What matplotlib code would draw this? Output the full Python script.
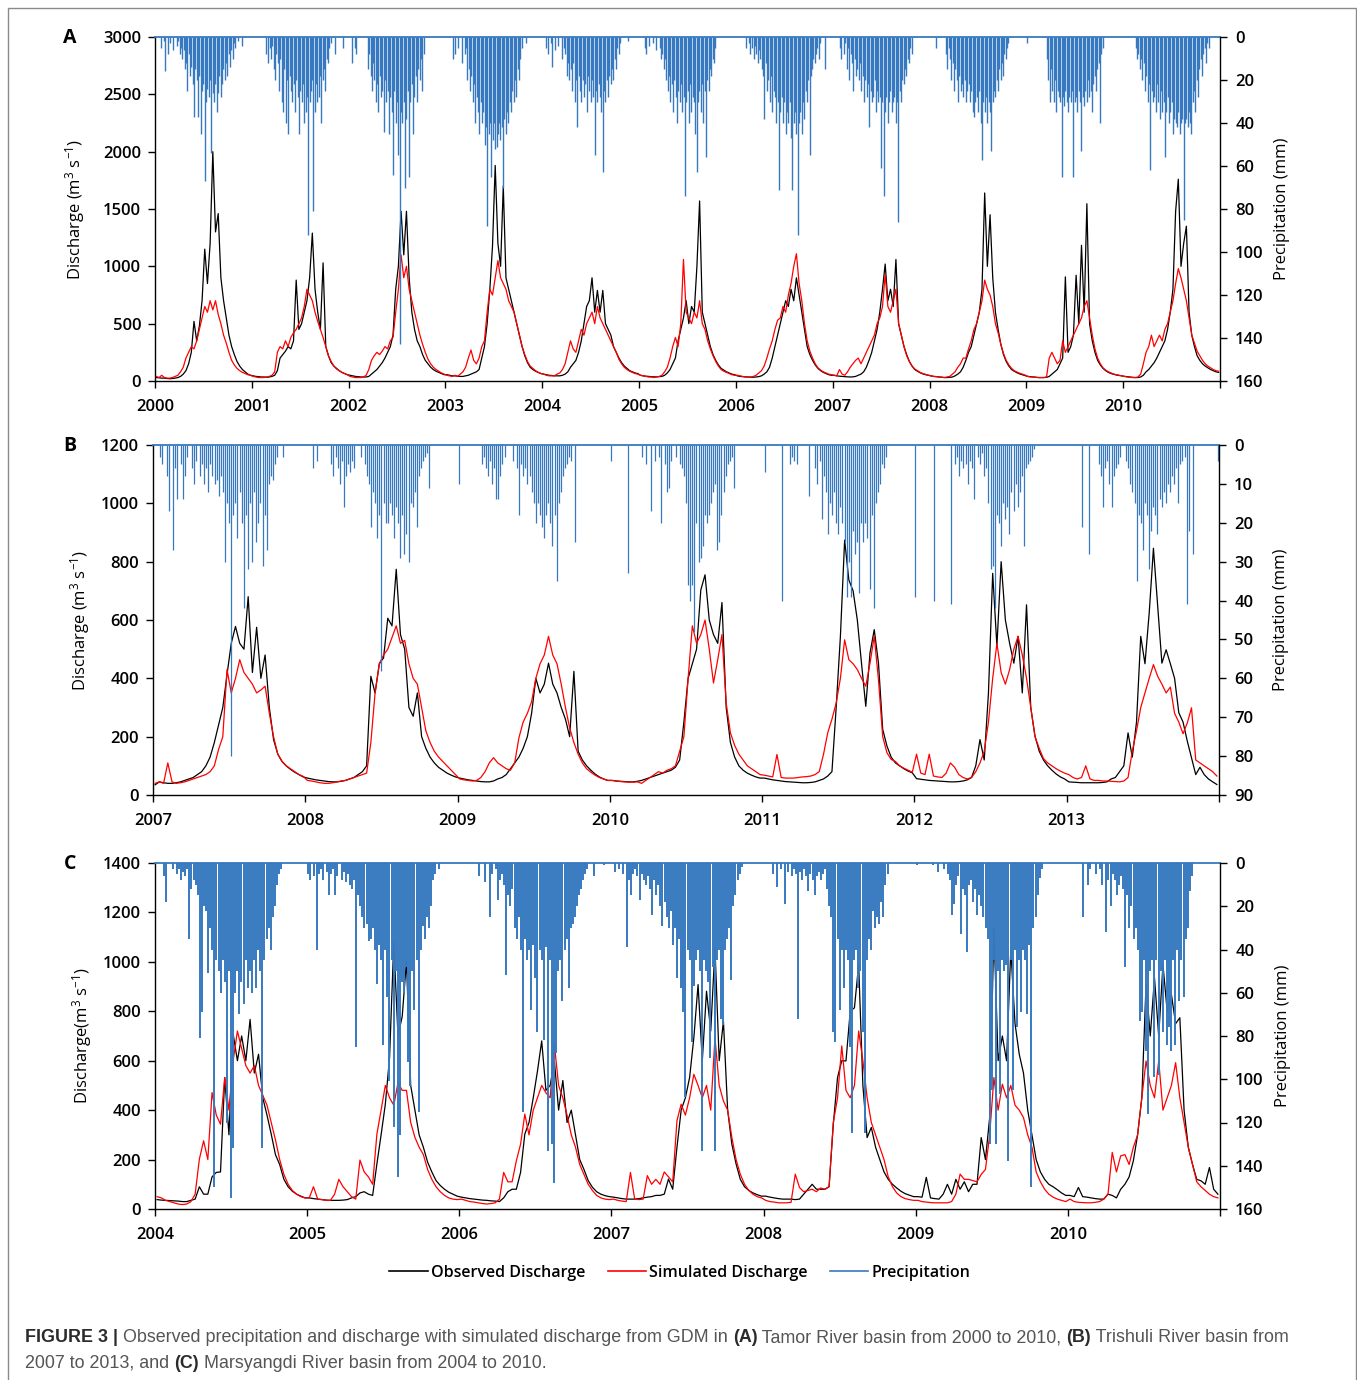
import matplotlib
matplotlib.use("Agg")
import matplotlib.pyplot as plt
from matplotlib.patches import Rectangle

plt.rcParams['font.family'] = ['Open Sans', 'DejaVu Sans']
plt.rcParams['mathtext.fontset'] = 'custom'
plt.rcParams['mathtext.rm'] = 'Open Sans'
plt.rcParams['mathtext.it'] = 'Open Sans'
plt.rcParams['mathtext.bf'] = 'Open Sans:bold'

# ---------------- Panel A : Tamor (2000-2010) ----------------
A_years = list(range(2000, 2011))
# observed discharge, 36 dekads per year (m3/s)
A_obs = [
    [30,28,25,25,22,20,22,25,30,40,60,90,150,250,520,350,480,700,1150,850,1200,2000,1300,1460,900,700,550,400,300,230,170,130,100,80,60,50],
    [45,40,38,35,35,33,35,40,50,90,200,230,260,300,280,350,880,450,500,600,700,900,1290,800,600,450,1030,300,220,160,130,110,90,75,65,55],
    [50,45,40,38,35,35,35,40,60,80,100,130,160,200,250,300,400,800,1000,1480,1100,1480,900,600,450,350,300,230,180,150,120,100,85,75,65,55],
    [55,50,45,45,42,40,40,45,50,60,70,80,100,200,300,500,800,1180,1880,1200,1000,1700,900,800,700,600,500,400,300,220,160,120,100,85,75,65],
    [60,55,50,48,45,45,45,50,60,80,120,150,180,250,350,500,650,700,900,600,790,600,790,500,450,400,300,250,200,160,130,110,90,80,70,65],
    [50,45,42,40,38,36,36,38,40,50,70,100,150,200,350,450,550,700,500,650,600,1000,1570,600,500,400,300,230,180,140,110,95,80,70,60,55],
    [45,40,38,36,35,33,33,35,38,45,60,80,120,200,300,400,500,600,700,650,800,700,900,750,600,450,300,230,180,140,110,90,75,65,55,50],
    [50,45,42,40,38,36,35,36,40,50,60,80,120,180,250,350,450,600,800,1020,700,800,650,1060,500,400,300,230,170,130,100,85,72,62,55,50],
    [45,40,38,35,33,30,30,32,35,45,60,80,120,180,250,300,400,500,600,800,1640,1000,1450,900,600,450,320,230,170,130,100,85,72,62,55,48],
    [40,38,35,33,30,30,30,32,40,60,80,100,150,200,908,250,300,400,922,500,1183,600,1546,500,350,250,180,140,110,90,75,65,58,52,48,45],
    [40,38,35,32,30,30,35,50,80,100,130,160,200,250,300,350,450,600,800,1480,1760,1000,1200,1350,600,400,300,220,180,150,130,115,100,90,80,75],
]
A_sim = [
    [40,30,50,30,25,25,30,40,50,80,120,200,250,300,280,350,450,550,650,600,700,620,700,580,500,400,330,250,180,140,110,90,75,65,55,50],
    [40,35,30,30,30,35,40,50,80,250,300,280,350,300,380,420,450,500,550,650,800,750,700,600,520,450,380,300,220,170,130,105,90,75,65,55],
    [40,35,30,30,30,35,50,100,180,220,250,230,260,300,280,350,380,600,800,1100,900,1000,800,700,600,500,400,320,250,190,150,120,100,85,70,60],
    [50,45,40,50,40,60,80,120,200,270,180,150,200,300,350,600,800,750,900,1050,900,850,800,700,650,600,500,400,300,230,170,130,110,90,75,65],
    [60,50,45,45,45,60,70,100,150,250,350,280,250,350,450,400,500,550,600,500,650,550,500,450,400,350,300,250,190,150,120,100,85,75,65,60],
    [50,45,40,35,35,30,35,40,50,80,120,200,300,380,300,500,1060,600,550,500,600,550,700,500,450,350,280,220,170,130,100,85,75,65,55,50],
    [50,45,40,35,35,35,40,50,70,90,130,200,280,350,450,530,550,650,600,750,850,1000,1110,850,700,500,350,260,200,150,115,95,80,70,60,55],
    [50,45,100,60,50,80,120,150,180,200,150,200,250,300,350,400,500,550,650,930,650,600,700,800,500,400,300,220,170,130,105,90,75,65,58,52],
    [45,40,38,35,33,30,35,40,60,80,120,150,200,200,280,350,450,500,600,700,880,800,750,650,500,420,320,240,180,140,110,90,78,68,60,52],
    [40,35,35,32,30,30,30,35,200,250,200,150,180,350,250,300,350,400,450,500,550,650,700,550,400,280,200,150,115,95,80,70,60,55,50,45],
    [40,35,32,30,30,35,60,150,250,300,400,300,350,400,350,450,500,600,700,850,980,900,800,700,550,400,330,260,220,180,150,130,115,100,90,85],
]
# precipitation, 73 pentads per year (mm)
A_prec = [
    [0,0,0,0,5,0,2,16,0,8,0,3,0,6,0,0,4,2,8,5,10,6,15,12,25,8,18,14,22,37,15,20,37,18,45,25,22,67,30,24,28,20,54,26,30,22,35,26,18,28,22,15,20,12,18,8,14,6,10,3,5,0,2,0,0,4,0,0,0,0,0,0,0],
    [0,0,0,0,0,0,0,0,0,0,8,0,12,5,10,4,15,20,8,12,25,10,30,35,15,40,20,45,18,25,30,22,35,20,28,45,25,30,22,40,35,28,92,30,25,20,81,35,22,30,28,18,40,20,15,25,10,12,5,3,0,0,8,0,0,0,0,0,5,0,0,0,0],
    [0,0,12,0,5,8,0,0,0,0,0,0,0,0,15,8,18,25,12,20,30,22,35,18,28,25,44,20,30,25,45,28,35,64,25,40,30,55,143,35,40,30,70,38,25,65,30,22,45,28,18,30,15,20,10,25,8,0,0,0,0,0,0,0,0,0,0,0,0,0,0,0,0],
    [0,0,0,0,0,10,0,8,0,5,0,0,12,0,8,5,20,15,25,18,30,22,40,28,35,45,30,40,35,50,42,88,45,40,65,48,40,52,51,45,40,48,42,70,38,45,35,40,30,35,25,30,20,28,15,20,10,5,0,0,3,0,0,0,0,0,0,0,0,0,0,0,0],
    [0,0,5,0,8,0,3,14,0,6,0,4,0,0,10,0,5,8,18,12,20,15,25,12,30,20,42,18,25,30,20,28,22,35,18,25,30,20,28,55,25,30,22,28,35,63,25,30,20,28,18,22,15,20,10,15,5,8,3,0,0,0,0,0,2,0,0,0,0,0,0,0,0],
    [0,0,0,0,5,8,0,4,0,0,3,0,6,0,0,5,10,8,15,10,20,25,18,30,22,35,20,28,40,25,30,22,35,28,74,30,25,40,22,35,28,30,45,63,30,25,35,22,40,25,56,20,25,15,18,10,12,5,0,0,0,0,0,0,0,0,0,0,0,0,0,0,0],
    [0,0,0,0,0,0,0,5,0,3,8,0,5,10,4,8,12,6,10,15,18,38,12,25,20,30,18,35,25,28,40,30,71,35,28,40,30,45,35,40,30,47,71,40,35,45,92,40,35,45,30,38,25,30,20,55,18,15,10,12,8,5,10,3,0,0,0,15,0,0,0,0,0],
    [0,0,0,0,0,5,10,0,8,3,15,5,20,8,12,25,10,18,15,20,12,25,18,30,20,28,22,42,25,30,28,20,35,25,30,28,61,30,74,35,28,40,30,25,35,30,28,40,30,86,25,30,20,22,15,18,10,12,5,8,0,0,0,0,0,0,0,0,0,0,0,0,0],
    [0,0,0,0,5,0,0,0,0,0,0,0,8,15,5,10,20,12,25,15,20,30,18,25,22,28,20,30,25,22,30,25,35,37,30,28,35,25,40,57,30,35,28,40,30,35,53,30,25,28,20,25,15,20,12,18,8,10,5,3,0,0,0,0,0,0,0,0,0,0,0,0,0],
    [3,0,0,0,0,0,0,0,0,0,0,0,0,0,0,10,20,30,15,25,30,20,35,25,28,30,65,28,32,25,30,35,28,30,25,65,30,28,35,25,30,53,28,32,25,30,20,28,25,35,22,18,25,15,12,40,8,5,0,0,0,0,0,0,0,0,0,0,0,0,0,0,0],
    [0,0,0,0,0,0,0,0,0,5,10,8,15,10,20,12,25,18,30,22,62,25,30,28,35,22,30,38,25,35,30,56,35,28,40,35,30,45,38,40,42,35,45,40,38,85,40,38,42,35,40,45,30,25,35,20,28,15,10,18,8,5,12,3,5,0,0,0,0,0,0,0,0],
]

# ---------------- Panel B : Trishuli (2007-2013) ----------------
B_years = list(range(2007, 2014))
B_obs = [
    [35,45,42,40,40,42,45,50,55,60,70,80,100,130,180,240,300,413,520,578,520,500,680,420,575,400,480,300,190,140,115,100,88,78,70,62],
    [58,55,52,50,48,46,45,45,47,50,55,60,70,80,100,407,350,450,470,606,580,774,550,500,300,270,350,200,160,130,110,95,85,75,68,62],
    [58,55,52,50,48,46,45,45,48,55,60,70,90,110,130,160,200,280,400,350,380,452,380,350,300,260,200,424,150,120,100,85,72,62,55,50],
    [50,48,47,46,45,45,47,50,55,60,65,70,75,80,85,95,120,250,400,450,500,703,755,600,550,520,660,300,180,130,100,85,75,68,62,58],
    [58,55,52,50,48,46,45,44,43,42,42,43,45,50,55,65,80,300,544,874,737,700,600,450,304,487,567,452,225,168,130,110,100,90,82,76],
    [56,54,52,50,49,48,47,46,45,45,46,48,52,60,100,190,120,350,760,510,800,600,520,452,544,350,652,300,202,150,120,100,85,72,62,55],
    [45,44,43,42,42,42,42,42,43,45,55,60,80,100,213,130,250,544,450,624,846,650,452,498,450,400,282,250,185,128,70,95,70,55,45,36],
]
B_sim = [
    [40,45,40,110,45,40,42,45,50,55,60,65,70,80,100,156,200,430,350,400,464,420,400,380,350,360,373,280,200,140,115,100,90,80,70,64],
    [50,48,45,42,40,40,42,45,48,50,55,60,65,70,75,180,350,450,480,500,540,580,520,530,450,400,380,300,220,180,150,130,115,100,85,70],
    [55,52,50,48,50,60,80,110,128,110,100,90,85,110,196,250,280,320,400,450,480,544,480,450,380,300,230,180,140,110,90,78,68,60,55,50],
    [50,48,46,45,44,44,45,40,50,60,70,80,75,85,90,100,150,200,400,580,520,550,600,500,384,464,550,315,213,170,140,120,100,90,80,70],
    [68,65,62,139,60,58,58,58,60,62,63,65,70,80,139,213,260,315,400,532,464,450,430,400,373,452,544,395,200,145,122,115,100,92,85,78],
    [140,75,70,140,65,62,60,75,110,95,70,60,55,60,80,110,150,250,400,520,420,380,430,500,544,480,400,300,200,160,125,110,100,90,82,75],
    [70,60,55,60,100,55,50,50,48,48,47,46,45,48,60,150,220,300,350,400,447,407,380,350,370,280,250,210,247,299,120,110,100,90,80,65],
]
B_prec = [
    [0,0,0,3,5,0,8,17,0,27,6,14,0,5,14,8,3,0,6,10,4,0,8,5,10,6,12,5,8,10,9,13,8,12,30,15,20,80,18,15,24,12,20,42,18,32,15,30,12,25,20,15,31,18,27,10,8,9,5,3,0,0,3,0,0,0,0,0,0,0,0,0,0],
    [0,0,0,6,0,4,0,0,0,0,0,0,5,8,3,6,10,4,16,8,5,7,4,6,0,0,3,0,5,8,10,21,12,15,24,18,58,15,20,20,15,18,24,16,20,29,18,28,23,30,15,16,12,21,8,6,4,3,2,11,0,0,0,0,0,0,0,0,0,0,0,0,0],
    [10,0,0,0,0,0,0,0,0,0,0,5,3,6,8,4,10,6,14,14,8,5,3,0,0,0,4,0,6,18,5,8,6,10,8,12,15,20,15,18,21,24,18,15,20,26,18,35,15,12,8,6,5,3,4,0,25,0,0,0,0,0,0,0,0,0,0,0,0,0,0,0,0],
    [4,0,0,0,0,0,0,0,33,0,0,0,0,0,0,3,0,5,0,17,0,4,0,3,20,0,5,12,11,4,0,3,0,5,6,8,15,36,40,36,48,20,30,29,26,18,20,18,15,12,10,27,25,18,12,8,5,4,3,11,0,0,0,0,0,0,0,0,0,0,0,0,0],
    [0,7,0,0,0,0,0,0,0,40,0,0,0,5,3,4,5,0,0,0,0,0,13,0,0,6,10,4,19,8,12,23,15,18,12,20,23,16,20,25,39,30,39,22,28,25,38,20,25,20,24,37,18,42,15,12,10,5,6,3,0,0,0,0,0,0,0,0,0,0,0,0,0],
    [39,0,0,0,0,0,0,0,0,40,0,0,0,0,0,0,0,41,0,5,3,8,4,6,5,10,4,6,14,0,3,5,2,8,6,15,32,31,42,18,20,26,15,19,16,23,12,17,10,16,12,8,26,6,5,4,3,1,0,0,0,0,0,0,0,0,0,0,0,0,0,0,0],
    [0,0,0,0,0,0,0,21,0,0,28,0,0,0,0,5,8,16,6,4,10,16,8,6,5,3,0,0,4,6,10,12,15,35,18,20,27,15,18,32,22,16,18,23,14,16,12,15,10,12,8,10,6,15,5,4,3,41,22,0,28,0,0,0,0,0,0,0,0,0,0,0,4],
]

# ---------------- Panel C : Marsyangdi (2004-2010) ----------------
C_years = list(range(2004, 2011))
C_obs = [
    [38,36,35,34,33,32,30,30,35,40,90,60,60,130,148,150,532,300,707,600,700,600,767,550,626,450,380,303,220,180,120,90,72,60,52,45],
    [45,42,40,38,36,35,35,35,36,38,45,50,65,70,60,55,182,300,424,612,1077,700,780,1003,500,400,300,250,190,150,115,95,80,68,60,52],
    [48,45,42,40,38,36,35,33,32,30,45,70,80,80,148,303,350,450,558,680,480,500,599,400,520,350,400,300,200,160,115,88,70,60,54,50],
    [48,45,42,40,40,40,42,45,48,50,55,55,60,121,80,249,400,450,532,693,908,600,881,720,1056,600,760,400,262,182,120,90,75,65,58,52],
    [52,48,45,42,40,40,40,38,40,60,80,100,80,80,80,90,343,532,600,599,800,814,989,500,289,330,250,200,150,120,100,85,72,62,56,50],
    [50,48,128,45,42,40,60,100,60,120,80,110,70,100,100,289,200,370,1137,600,700,600,1050,750,626,550,400,300,200,150,120,100,90,78,65,55],
    [55,50,87,50,48,45,42,40,40,60,55,45,80,100,130,195,300,450,908,700,935,700,989,800,868,750,774,400,250,180,120,114,100,168,80,60],
]
C_sim = [
    [50,45,35,30,25,20,18,20,30,60,202,276,200,471,380,343,532,400,600,720,650,580,550,580,500,460,420,350,280,200,140,100,75,60,50,45],
    [45,90,40,38,35,35,60,120,90,70,50,40,198,150,130,100,303,400,500,450,420,511,480,480,350,290,250,220,160,120,90,70,55,45,40,38],
    [40,35,30,28,25,22,20,22,25,40,148,110,110,195,262,384,300,400,450,500,470,450,666,500,450,380,300,250,180,140,100,75,55,45,40,38],
    [40,35,32,30,148,40,38,40,135,100,120,100,150,130,110,357,424,380,450,545,500,450,500,400,693,500,437,400,289,200,140,100,75,60,50,45],
    [35,30,28,25,25,25,27,141,87,70,75,80,70,85,80,90,350,450,660,480,450,500,720,600,450,350,300,250,200,130,90,65,50,42,38,35],
    [35,30,28,26,25,25,25,25,30,60,141,120,120,115,110,140,160,300,532,400,505,450,500,420,400,370,300,250,150,110,80,60,48,40,35,30],
    [40,30,27,26,25,25,27,30,40,60,229,150,215,220,180,250,300,451,599,500,450,599,400,450,500,592,450,350,250,180,110,90,75,60,50,45],
]
C_prec = [
    [0,0,0,0,6,18,0,0,3,0,5,3,8,4,6,3,35,12,8,10,15,81,69,20,22,51,30,40,150,45,50,60,45,55,120,50,155,132,60,50,70,55,65,45,58,50,60,45,58,40,50,132,45,35,30,40,25,20,10,5,3,0,0,0,0,0,0,0,0,0,0,0,0],
    [5,8,0,6,40,5,3,8,0,4,15,5,3,15,6,0,8,4,9,5,10,12,8,85,15,20,25,30,28,36,35,30,40,56,38,45,84,40,62,101,45,122,50,145,126,55,60,48,92,103,50,68,45,115,40,29,35,25,30,20,8,5,0,3,0,0,0,0,0,0,0,0,0],
    [0,0,0,0,0,0,0,0,0,6,0,0,9,0,25,5,0,3,17,8,5,10,52,15,20,12,30,35,25,40,115,35,45,40,68,38,53,78,40,45,82,39,133,45,130,148,88,50,45,64,40,35,58,30,28,25,20,15,12,8,5,3,0,0,6,0,0,0,0,1,0,0,0],
    [0,4,0,3,0,5,0,39,8,15,5,3,6,17,5,8,10,6,12,24,8,15,10,20,29,18,25,30,22,38,30,53,35,58,69,108,40,45,83,57,45,40,50,133,45,50,55,90,48,133,45,40,72,75,40,35,30,54,20,15,8,5,2,0,0,0,0,0,0,0,0,0,0],
    [0,0,0,0,5,0,11,0,3,0,19,4,0,6,3,5,72,4,8,3,6,13,5,8,15,6,4,8,5,3,12,20,25,78,83,35,68,40,58,40,45,85,125,45,40,58,50,78,125,45,35,40,22,30,25,28,18,25,10,5,0,0,0,0,0,0,0,0,0,0,0,0,0],
    [1,0,0,0,0,0,0,0,1,0,4,0,0,3,0,5,8,24,19,10,6,33,12,15,41,10,8,18,12,24,15,20,25,30,35,130,105,45,130,50,107,45,50,47,138,45,105,40,76,45,69,40,45,70,38,150,30,25,15,7,3,0,0,0,0,0,0,0,0,0,0,0,0],
    [0,0,0,0,0,0,0,25,0,10,3,0,0,5,0,3,10,0,32,8,20,5,8,15,10,6,12,48,15,30,20,35,30,40,73,69,45,87,116,50,45,99,45,98,50,78,45,84,76,87,45,84,40,64,45,62,35,30,13,6,0,0,0,0,0,0,0,0,0,0,0,0,0],
]

A_qticks = [0, 500, 1000, 1500, 2000, 2500, 3000]
A_pticks = [0, 20, 40, 60, 80, 100, 120, 140, 160]
B_qticks = [0, 200, 400, 600, 800, 1000, 1200]
B_pticks = [0, 10, 20, 30, 40, 50, 60, 70, 80, 90]
C_qticks = [0, 200, 400, 600, 800, 1000, 1200, 1400]
C_pticks = [0, 20, 40, 60, 80, 100, 120, 140, 160]

BLUE = '#3779c0'
W, H = 1357, 1380


def series(years, rows):
    xs, ys = [], []
    for yr, row in zip(years, rows):
        n = len(row)
        for i, v in enumerate(row):
            xs.append(yr + (i + 0.5) / n)
            ys.append(v)
    return xs, ys


def panel(rect, letter, years, obs, sim, prec, qticks, pticks, ylab, plw, lab_l, lab_r):
    l, t, r, b = rect
    ax = fig.add_axes([l / W, 1 - b / H, (r - l) / W, (b - t) / H])
    ax2 = ax.twinx()
    x, y = series(years, obs)
    ax.plot(x, y, color='black', lw=0.9, zorder=2)
    x, y = series(years, sim)
    ax.plot(x, y, color='#ff0000', lw=0.9, zorder=3)
    xp, pp = series(years, prec)
    ax2.vlines(xp, 0, pp, color=BLUE, lw=plw)
    x0, x1 = years[0], years[-1] + 1
    ax.set_xlim(x0, x1)
    ax.set_ylim(qticks[0], qticks[-1])
    ax2.set_ylim(pticks[-1], pticks[0])
    ax.set_yticks(qticks)
    ax2.set_yticks(pticks)
    ticks = list(range(x0, x1 + 1))
    ax.set_xticks(ticks)
    ax.set_xticklabels([str(v) for v in ticks[:-1]] + [''])
    for a in (ax, ax2):
        for s in a.spines.values():
            s.set_linewidth(1.0)
    ax.spines['right'].set_visible(False)
    ax.spines['top'].set_color(BLUE)
    ax.spines['top'].set_linewidth(1.3)
    ax2.spines['top'].set_visible(False)
    ax2.spines['left'].set_visible(False)
    ax2.spines['bottom'].set_visible(False)
    ax.tick_params(axis='x', direction='out', length=5, width=1, pad=8, labelsize=12)
    ax.tick_params(axis='y', direction='out', length=5, width=1, pad=5, labelsize=12)
    ax2.tick_params(axis='y', direction='out', length=5, width=1, pad=6, labelsize=12)
    for lab in ax.get_xticklabels() + ax.get_yticklabels() + ax2.get_yticklabels():
        lab.set_fontweight('semibold')
    ax.set_ylabel(ylab, fontsize=12)
    ax.yaxis.set_label_coords((lab_l + 14 - l) / (r - l), 0.5)
    ax2.set_ylabel('Precipitation (mm)', fontsize=12)
    ax2.yaxis.set_label_coords((lab_r - 4 - l) / (r - l), 0.5)
    fig.text(70 / W, 1 - (t + 1) / H, letter, fontsize=14, fontweight='bold',
             ha='center', va='center')
    return ax, ax2


fig = plt.figure(figsize=(W / 100, H / 100), dpi=100)

axA, _ = panel((155, 37, 1220, 381), 'A', A_years, A_obs, A_sim, A_prec,
               A_qticks, A_pticks, 'Discharge (m$^{3}$ s$^{-1}$)', 1.0, 73, 1278)
axB, _ = panel((153, 445, 1219, 795), 'B', B_years, B_obs, B_sim, B_prec,
               B_qticks, B_pticks, 'Discharge (m$^{3}$ s$^{-1}$)', 0.9, 78, 1277)
axC, _ = panel((155, 863, 1220, 1209), 'C', C_years, C_obs, C_sim, C_prec,
               C_qticks, C_pticks, 'Discharge(m$^{3}$ s$^{-1}$)', 1.4, 80, 1279)

handles = [plt.Line2D([], [], color='black', lw=1.2),
           plt.Line2D([], [], color='#ff0000', lw=1.2),
           plt.Line2D([], [], color=BLUE, lw=1.2)]
fig.legend(handles, ['Observed Discharge', 'Simulated Discharge', 'Precipitation'],
           loc='center', bbox_to_anchor=(680 / W, 1 - 1273 / H), ncol=3,
           frameon=False, handlelength=2.4, handletextpad=0.2,
           columnspacing=1.4, prop={'family': 'Open Sans', 'weight': 'semibold', 'size': 11.5})

# caption with mixed weights
renderer = fig.canvas.get_renderer()


def rich_line(x_px, y_px, parts):
    x = x_px / W
    for s, w, c in parts:
        t = fig.text(x, 1 - y_px / H, s, fontsize=12.9, fontweight=w, color=c,
                     family='Liberation Sans', va='center', ha='left')
        bb = t.get_window_extent(renderer=renderer)
        x += bb.width / W


DARK = '#2b2b2b'
GREY = '#555555'
rich_line(25, 1338, [('FIGURE 3 |', 'bold', DARK),
                     (' Observed precipitation and discharge with simulated discharge from GDM in ', 'normal', GREY),
                     ('(A)', 'bold', DARK),
                     (' Tamor River basin from 2000 to 2010, ', 'normal', GREY),
                     ('(B)', 'bold', DARK),
                     (' Trishuli River basin from', 'normal', GREY)])
rich_line(25, 1363, [('2007 to 2013, and ', 'normal', GREY),
                     ('(C)', 'bold', DARK),
                     (' Marsyangdi River basin from 2004 to 2010.', 'normal', GREY)])

fig.patches.append(Rectangle((8 / W, -0.01), (1356 - 8) / W, 1 - 8 / H + 0.01,
                             transform=fig.transFigure, fill=False,
                             edgecolor='#8a8a8a', lw=1.0))

fig.savefig('out.png', dpi=100)
